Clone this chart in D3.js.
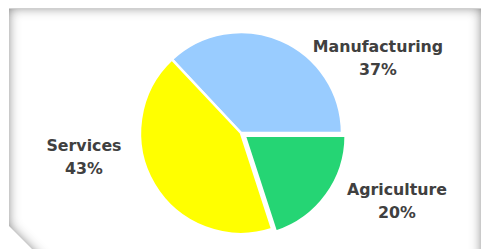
<!DOCTYPE html>
<html>
<head>
<meta charset="utf-8">
<script src="https://cdn.jsdelivr.net/npm/d3@7"></script>
<style>
  html, body { margin: 0; padding: 0; background: #fff; }
  svg { display: block; }
  .lbl { font-family: "DejaVu Sans", sans-serif; font-weight: bold; font-size: 15.8px; fill: #404040; }
</style>
</head>
<body>
<div id="vis"></div>
<script>
// sector shares of the economy
var sectors = ['Manufacturing', 'Agriculture', 'Services'];
var shares = [37, 20, 43];
var colors = ['#99CCFF', '#25D574', '#FFFF00'];
var exploded = [0, 4.5, 0];
// label anchors (centre x, first baseline)
var labelPos = [[378, 52], [397, 195], [84, 151]];

var width = 487, height = 249;
var cx = 241, cy = 133, radius = 101;

var svg = d3.select('#vis').append('svg')
    .attr('width', width)
    .attr('height', height);

// inset shadow for the panel
var defs = svg.append('defs');
var f = defs.append('filter').attr('id', 'inset')
    .attr('x', '-10%').attr('y', '-10%').attr('width', '120%').attr('height', '120%');
f.append('feComponentTransfer').attr('in', 'SourceAlpha').attr('result', 'inv')
  .append('feFuncA').attr('type', 'table').attr('tableValues', '1 0');
f.append('feGaussianBlur').attr('in', 'inv').attr('stdDeviation', 6).attr('result', 'blur');
f.append('feFlood').attr('flood-color', '#606060').attr('flood-opacity', 1).attr('result', 'col');
f.append('feComposite').attr('in', 'col').attr('in2', 'blur').attr('operator', 'in').attr('result', 'sh');
f.append('feComposite').attr('in', 'sh').attr('in2', 'SourceAlpha').attr('operator', 'in').attr('result', 'shIn');
var m = f.append('feMerge');
m.append('feMergeNode').attr('in', 'SourceGraphic');
m.append('feMergeNode').attr('in', 'shIn');

svg.append('path')
    .attr('d', 'M9,8 L481,8 L481,275 L58,275 L9,226 Z')
    .attr('fill', '#fff')
    .attr('filter', 'url(#inset)');
// thin outline on the top edge
svg.append('line')
    .attr('x1', 9).attr('x2', 481).attr('y1', 8.5).attr('y2', 8.5)
    .attr('stroke', '#d0d0d0').attr('stroke-width', 1);

// pie
var start = Math.PI / 2 - shares[0] / 100 * 2 * Math.PI;
var pie = d3.pie().sort(null)
    .startAngle(start)
    .endAngle(start + 2 * Math.PI);
var arc = d3.arc().innerRadius(0).outerRadius(radius);
var arcs = pie(shares);

var g = svg.append('g').attr('transform', 'translate(' + cx + ',' + cy + ')');

g.selectAll('path.slice')
    .data(arcs)
  .enter().append('path')
    .attr('class', 'slice')
    .attr('d', arc)
    .attr('fill', function(d, i) { return colors[i]; })
    .attr('stroke', '#fff')
    .attr('stroke-width', 2.5)
    .attr('stroke-linejoin', 'round')
    .attr('transform', function(d, i) {
        var a = (d.startAngle + d.endAngle) / 2;
        return 'translate(' + (Math.sin(a) * exploded[i]) + ',' + (-Math.cos(a) * exploded[i]) + ')';
    });

// labels
var lbl = svg.selectAll('text.lbl')
    .data(arcs)
  .enter().append('text')
    .attr('class', 'lbl')
    .attr('text-anchor', 'middle')
    .attr('x', function(d, i) { return labelPos[i][0]; })
    .attr('y', function(d, i) { return labelPos[i][1]; });

lbl.append('tspan')
    .attr('x', function(d, i) { return labelPos[i][0]; })
    .text(function(d, i) { return sectors[i]; });
lbl.append('tspan')
    .attr('x', function(d, i) { return labelPos[i][0]; })
    .attr('dy', 23)
    .text(function(d, i) { return shares[i] + '%'; });
</script>
</body>
</html>
